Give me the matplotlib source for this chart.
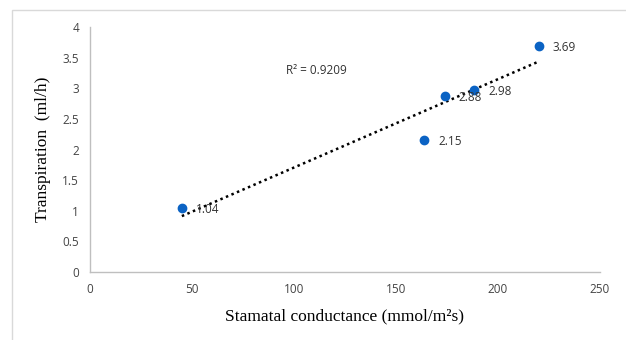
import numpy as np
import matplotlib.pyplot as plt
from matplotlib.patches import Rectangle

# stomatal conductance vs transpiration
conductance = [45, 164, 174, 188.5, 220]
transpiration = [1.04, 2.15, 2.88, 2.98, 3.69]
point_labels = ['1.04', '2.15', '2.88', '2.98', '3.69']
r2_text = 'R² = 0.9209'

fig = plt.figure(figsize=(6.26, 3.4), dpi=100)
ax = fig.add_axes([0.144, 0.2, 0.814, 0.72])

# light frame round the chart
fig.patches.append(Rectangle((0.019, -0.05), 1.2, 1.02, transform=fig.transFigure,
                             fill=False, edgecolor='#d9d9d9', linewidth=1.0))

ax.scatter(conductance, transpiration, color='#0b63c4', s=36, zorder=3)

# linear trendline
slope, intercept = np.polyfit(conductance, transpiration, 1)
xs = np.array([min(conductance), max(conductance)])
ax.plot(xs, slope * xs + intercept, color='black', linestyle=(0, (1, 1.4)),
        linewidth=1.8, zorder=2)

for x, y, lab in zip(conductance, transpiration, point_labels):
    ax.annotate(lab, (x, y), xytext=(10, -1), textcoords='offset points',
                va='center', ha='left', fontsize=8.5, color='#333333',
                family='Open Sans', zorder=4)

ax.text(96, 3.3, r2_text, fontsize=8.5, color='#333333', family='Open Sans',
        va='center', ha='left')

ax.set_xlim(0, 250)
ax.set_ylim(0, 4)
ax.set_xticks([0, 50, 100, 150, 200, 250])
ax.set_yticks([0, 0.5, 1, 1.5, 2, 2.5, 3, 3.5, 4])
ax.set_yticklabels(['0', '0.5', '1', '1.5', '2', '2.5', '3', '3.5', '4'])
ax.tick_params(length=0, labelsize=8.5, labelcolor='#444444', pad=8)
for lab in ax.get_xticklabels() + ax.get_yticklabels():
    lab.set_family('Open Sans')

for side in ['top', 'right']:
    ax.spines[side].set_visible(False)
for side in ['left', 'bottom']:
    ax.spines[side].set_color('#bfbfbf')
    ax.spines[side].set_linewidth(1.0)

ax.set_xlabel('Stamatal conductance (mmol/m²s)', family='Liberation Serif',
              fontsize=12.5, labelpad=9)
ax.set_ylabel('Transpiration  (ml/h)', family='Liberation Serif',
              fontsize=12.5, labelpad=8)

fig.savefig('out.png', dpi=100)
